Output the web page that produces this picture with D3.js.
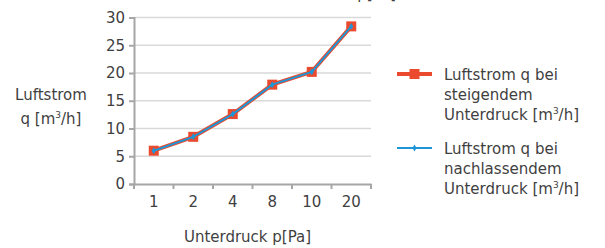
<!DOCTYPE html>
<html>
<head>
<meta charset="utf-8">
<script src="https://cdn.jsdelivr.net/npm/d3@7"></script>
<style>
  body { margin: 0; background: #fff; }
  svg text { font-family: 'DejaVu Sans', sans-serif; fill: #3f3f3f; }
</style>
</head>
<body>
<div id="chart"></div>
<script>
const categories = ["1", "2", "4", "8", "10", "20"];
const rising = [6.0, 8.5, 12.6, 17.9, 20.2, 28.4];
const falling = [6.0, 8.5, 12.6, 17.9, 20.2, 28.4];
const yTicks = [0, 5, 10, 15, 20, 25, 30];

const W = 605, H = 248;
const plotLeft = 134, plotRight = 371, plotTop = 17.5, plotBottom = 184;

const svg = d3.select("#chart").append("svg")
    .attr("width", W)
    .attr("height", H);

const x = d3.scaleBand().domain(categories).range([plotLeft, plotRight]);
const y = d3.scaleLinear().domain([0, 30]).range([plotBottom, plotTop]);

// gridlines
svg.append("g")
    .selectAll("line")
    .data(yTicks.filter(d => d > 0))
    .enter().append("line")
    .attr("x1", plotLeft).attr("x2", plotRight)
    .attr("y1", d => y(d)).attr("y2", d => y(d))
    .attr("stroke", "#d9d9d9")
    .attr("stroke-width", 1.5);

// y axis
const yAxis = svg.append("g")
    .attr("transform", `translate(${plotLeft},0)`)
    .call(d3.axisLeft(y).tickValues(yTicks).tickSize(5).tickPadding(4));
yAxis.select(".domain").attr("stroke", "#a6a6a6").attr("stroke-width", 2);
yAxis.selectAll(".tick line").attr("stroke", "#a6a6a6").attr("stroke-width", 2);
yAxis.selectAll(".tick text")
    .style("font-size", "15px")
    .style("font-family", "'DejaVu Sans', sans-serif")
    .attr("fill", "#3f3f3f");

// x axis
const xAxis = svg.append("g")
    .attr("transform", `translate(0,${plotBottom})`)
    .call(d3.axisBottom(x).tickSize(0).tickPadding(12));
xAxis.select(".domain").attr("stroke", "#a6a6a6").attr("stroke-width", 2);
xAxis.selectAll(".tick text")
    .style("font-size", "15px")
    .style("font-family", "'DejaVu Sans', sans-serif")
    .attr("fill", "#3f3f3f");
// category separators
svg.append("g")
    .selectAll("line")
    .data(categories.map(c => x(c)).concat([plotRight]))
    .enter().append("line")
    .attr("x1", d => d).attr("x2", d => d)
    .attr("y1", plotBottom).attr("y2", plotBottom + 5)
    .attr("stroke", "#a6a6a6")
    .attr("stroke-width", 2);

const cx = d => x(d) + x.bandwidth() / 2;
const line = d3.line()
    .x((d, i) => cx(categories[i]))
    .y(d => y(d));

// rising series (red, squares)
svg.append("path")
    .datum(rising)
    .attr("d", line)
    .attr("fill", "none")
    .attr("stroke", "#ea4b2f")
    .attr("stroke-width", 4);
svg.append("g")
    .selectAll("rect")
    .data(rising)
    .enter().append("rect")
    .attr("x", (d, i) => cx(categories[i]) - 5)
    .attr("y", d => y(d) - 5)
    .attr("width", 10).attr("height", 10)
    .attr("fill", "#ea4b2f");

// falling series (blue, small diamonds)
svg.append("path")
    .datum(falling)
    .attr("d", line)
    .attr("fill", "none")
    .attr("stroke", "#1e96d6")
    .attr("stroke-width", 2);
svg.append("g")
    .selectAll("path")
    .data(falling)
    .enter().append("path")
    .attr("d", d3.symbol().type(d3.symbolDiamond).size(14))
    .attr("transform", (d, i) => `translate(${cx(categories[i])},${y(d)})`)
    .attr("fill", "#1e96d6");

// axis titles
svg.append("text")
    .attr("x", (plotLeft + plotRight) / 2 - 5)
    .attr("y", 242)
    .attr("text-anchor", "middle")
    .style("font-size", "15px")
    .text("Unterdruck p[Pa]");

const yTitle = svg.append("text")
    .attr("text-anchor", "middle")
    .style("font-size", "15px");
yTitle.append("tspan").attr("x", 51).attr("y", 100).text("Luftstrom");
const t2 = yTitle.append("tspan").attr("x", 51).attr("y", 124);
t2.append("tspan").text("q [m");
t2.append("tspan").attr("dy", -6).style("font-size", "9px").text("3");
t2.append("tspan").attr("dy", 6).text("/h]");

// cut-off chart title at top
svg.append("text")
    .attr("x", 396)
    .attr("y", -1)
    .attr("text-anchor", "end")
    .style("font-size", "15px")
    .text("Unterdruck p[Pa]");

// legend
const legend = [
  { lines: ["Luftstrom q bei", "steigendem", "Unterdruck [m³/h]"], color: "#ea4b2f", width: 4, marker: "square", y: 74 },
  { lines: ["Luftstrom q bei", "nachlassendem", "Unterdruck [m³/h]"], color: "#1e96d6", width: 2, marker: "diamond", y: 148 }
];
legend.forEach(l => {
  svg.append("line")
      .attr("x1", 397).attr("x2", 432)
      .attr("y1", l.y).attr("y2", l.y)
      .attr("stroke", l.color)
      .attr("stroke-width", l.width);
  if (l.marker === "square") {
    svg.append("rect")
        .attr("x", 409.5).attr("y", l.y - 5)
        .attr("width", 10).attr("height", 10)
        .attr("fill", l.color);
  } else {
    svg.append("path")
        .attr("d", d3.symbol().type(d3.symbolDiamond).size(14))
        .attr("transform", `translate(414.5,${l.y})`)
        .attr("fill", l.color);
  }
  const t = svg.append("text").style("font-size", "15px");
  l.lines.forEach((s, i) => {
    const ts = t.append("tspan").attr("x", 444).attr("y", l.y + 6 + i * 20);
    if (s.includes("³")) {
      const [a, b] = s.split("³");
      ts.append("tspan").text(a);
      ts.append("tspan").attr("dy", -6).style("font-size", "9px").text("3");
      ts.append("tspan").attr("dy", 6).text(b);
    } else {
      ts.text(s);
    }
  });
});
</script>
</body>
</html>
